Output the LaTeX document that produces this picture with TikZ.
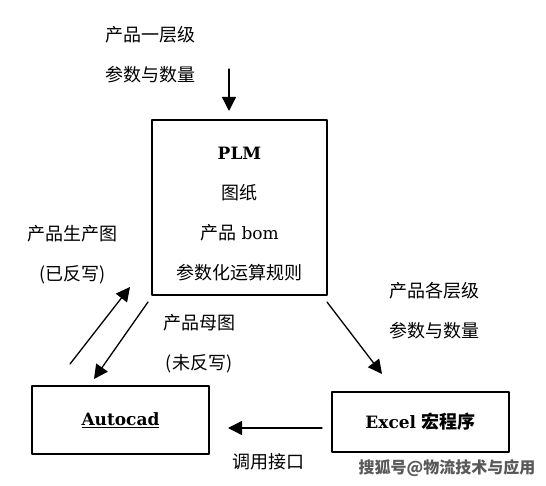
\documentclass[tikz,border=0pt]{standalone}
\usepackage{fontspec}
\setmainfont{DejaVu Serif}
\newfontfamily\cjk{Noto Sans CJK SC}
\usetikzlibrary{arrows.meta,calc}
\tikzset{
  box/.style={draw=black,line width=2pt,inner sep=0pt},
  flow/.style={line width=1.3pt,-{Triangle[length=14pt,width=14pt]}},
  note/.style={font=\cjk\fontsize{18}{40}\selectfont,align=center,inner sep=0pt},
  inbox/.style={font=\fontsize{17}{40}\selectfont,align=center,inner sep=0pt},
}

\begin{document}
\begin{tikzpicture}[x=1pt,y=-1pt,line cap=round,line join=round]
  \useasboundingbox (0,0) rectangle (546,486);
  \fill[white] (0,0) rectangle (546,486);

  % boxes
  \node[box,minimum width=175pt,minimum height=175pt] (plm) at (239.5,207.5) {};
  \node[inbox] (plmtext) at (239.5,214)
    {\textbf{PLM}\\{\cjk\fontsize{18}{40}\selectfont 图纸}\\{\cjk\fontsize{18}{40}\selectfont 产品} bom\\{\cjk\fontsize{18}{40}\selectfont 参数化运算规则}};
  \node[box,minimum width=177pt,minimum height=68pt,inbox] (cad) at (120.5,420)
    {\underline{\textbf{Autocad}}};
  \node[box,minimum width=177pt,minimum height=60pt,inbox] (xls) at (420.5,422)
    {\textbf{Excel} {\cjk\bfseries\fontsize{18}{40}\selectfont 宏程序}};

  % labels
  \node[note,align=left] (toplbl) at (150,55) {产品一层级\\参数与数量};
  \node[note] (leftlbl) at (72.5,255) {产品生产图\\(已反写)};
  \node[note] (midlbl) at (199,344) {产品母图\\(未反写)};
  \node[note] (rightlbl) at (434,311) {产品各层级\\参数与数量};
  \node[note] (calllbl) at (268,462) {调用接口};
  \node[note,font=\cjk\bfseries\fontsize{16}{18}\selectfont,text=black!65] (mark) at (447,468)
    {搜狐号@物流技术与应用};

  % arrow ends
  \coordinate (inA) at (229,69);
  \coordinate (inB) at (229,111);
  \coordinate (upA) at (70,364);
  \coordinate (upB) at (130,287);
  \coordinate (dnA) at (148,302);
  \coordinate (dnB) at (94,379);
  \coordinate (rtA) at (327,302);
  \coordinate (rtB) at (382,374);
  \coordinate (hzA) at (322,428);
  \coordinate (hzB) at (228,428);

  \draw[flow] (inA) -- (inB);
  \draw[flow] (upA) -- (upB);
  \draw[flow] (dnA) -- (dnB);
  \draw[flow] (rtA) -- (rtB);
  \draw[flow] (hzA) -- (hzB);
\end{tikzpicture}
\end{document}
